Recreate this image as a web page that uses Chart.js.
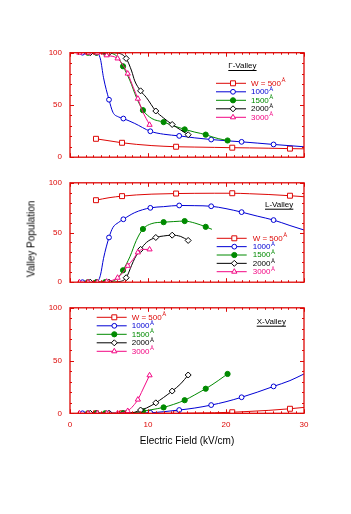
<!DOCTYPE html>
<html><head><meta charset="utf-8">
<script src="https://cdn.jsdelivr.net/npm/chart.js@4/dist/chart.umd.min.js"></script>
<style>
html,body{margin:0;padding:0;background:#fff;width:351px;height:514px;overflow:hidden;}
canvas{position:absolute;left:0;}
#ytitle{position:absolute;left:31px;top:239px;font:10px 'Liberation Sans',Arial,sans-serif;color:#000;white-space:nowrap;transform:translate(-50%,-50%) rotate(-90deg);}
</style></head><body>
<canvas id="c1" width="351" height="140" style="top:30px"></canvas>
<canvas id="c2" width="351" height="125" style="top:170px"></canvas>
<canvas id="c3" width="351" height="165" style="top:295px"></canvas>
<div id="ytitle">Valley Population</div>
<script>
// ---------------- data ----------------
const wellLabels = ['W = 500', '1000', '1500', '2000', '3000'];
const xTicks = [0, 10, 20, 30];
const yTicks = [0, 50, 100];

const x500   = [3.33, 5, 6.67, 8.5, 10.5, 13.6, 16, 18.5, 20.8, 23, 25.5, 28.2, 30];
const gam500 = [17.6, 15.7, 13.8, 12.3, 11.1, 10.0, 9.7, 9.4, 9.1, 8.9, 8.6, 8.2, 8.0];
const L500   = [82.5, 85, 86.6, 87.8, 88.6, 89.2, 89.4, 89.5, 89.5, 89, 88.2, 87, 86];
const X500   = [0, 0, 0, 0, 0, 0, 0.2, 0.5, 1.0, 1.8, 2.8, 4.3, 5.6];
const mk500  = [0, 2, 5, 8, 11];

const x1000   = [1.6, 3.4, 3.9, 4.3, 5.0, 5.5, 6.2, 6.84, 8.3, 10.3, 12, 14.0, 16, 18.1, 20, 22.0, 24, 26.1, 28.2, 30];
const gam1000 = [100, 100, 94, 76, 55, 43, 38.6, 37, 32.3, 24.8, 22, 20.4, 18.5, 16.9, 15.8, 14.7, 13.5, 12.2, 11, 10];
const L1000   = [0, 0, 7, 24, 45, 55, 60, 63.3, 70, 74.8, 76, 77.2, 77, 76.4, 74, 70.5, 66.5, 62.5, 57, 52.5];
const X1000   = [0, 0, 0, 0, 0, 0, 0, 0, 0.2, 0.5, 1.5, 3.1, 5, 7.8, 11, 15.2, 20, 25.5, 31, 37.3];
const mk1000  = [0, 1, 4, 7, 9, 11, 13, 15, 17];

const x1500   = [2.3, 3.4, 4.5, 5.5, 6.2, 6.8, 7.7, 8.5, 9.35, 10.5, 12.0, 13.3, 14.7, 16, 17.4, 18.2, 19, 20.2];
const gam1500 = [100, 100, 100, 99, 95, 87, 73, 57.4, 45, 37, 33.6, 30, 26.6, 24, 21.6, 19.5, 17.8, 16];
const L1500   = [0, 0, 0, 1, 5, 12, 26, 42, 53.5, 59, 60.4, 61, 61.5, 59.5, 55.7, 53.2];
const X1500   = [0, 0, 0, 0, 0, 0, 0.3, 0.8, 1.9, 3.5, 5.6, 8.5, 12.4, 17.5, 23.3, 27, 31, 37.3];
const mk1500  = [0, 1, 2, 5, 8, 10, 12, 14, 17];

const x2000   = [2.6, 5.0, 6.2, 7.2, 7.9, 8.3, 9.05, 9.8, 11.0, 12, 13.1, 14.2, 15.15];
const gam2000 = [100, 100, 99.5, 94.5, 82.5, 73, 63.5, 57, 44.2, 37.5, 31.3, 26, 21.5];
const L2000   = [0, 0, 0.5, 4.5, 17, 24, 33, 40, 45, 46.5, 47.3, 46, 42];
const X2000   = [0, 0, 0, 0, 0.5, 1, 3.1, 5, 9.9, 15, 21.1, 28, 36.3];
const mk2000  = [0, 1, 3, 6, 8, 10, 12];

const x3000   = [1.2, 2.3, 3.5, 4.7, 6.1, 6.8, 7.4, 8.1, 8.7, 9.3, 10.2];
const gam3000 = [100, 100, 100, 97.5, 94.5, 88, 80, 67, 56, 44, 31];
const L3000   = [0, 0, 0, 0.5, 4.5, 10, 16.5, 23, 30, 33, 33];
const X3000   = [0, 0, 0, 0, 0, 0.8, 2.2, 7, 13, 22, 36];
const mk3000  = [0, 1, 2, 3, 4, 6, 8, 10];

// ---------------- styles ----------------
const FONT = "'Liberation Sans', Arial, sans-serif";
const RED = '#dd0806';
const colors = ['#dd0806', '#0000d4', '#008a00', '#000000', '#f20884'];
const styles = ['rect', 'circle', 'circle', 'rectRot', 'triangle'];
const filled = [false, false, true, false, false];
const radii  = [3.5, 2.4, 2.6, 3, 3];

function makeSet(k, xs, ys, mk) {
  return {
    data: ys.map((v, i) => ({x: xs[i], y: v})),
    borderColor: colors[k], borderWidth: 1,
    backgroundColor: filled[k] ? colors[k] : '#fff',
    pointStyle: styles[k],
    pointBorderColor: colors[k],
    pointBackgroundColor: filled[k] ? colors[k] : '#fff',
    pointBorderWidth: 1,
    pointRadius: c => mk.includes(c.dataIndex) ? radii[k] : 0,
    pointHoverRadius: c => mk.includes(c.dataIndex) ? radii[k] : 0,
    cubicInterpolationMode: 'monotone',
    fill: false
  };
}

function drawMarker(ctx, k, x, y) {
  const r = radii[k];
  ctx.beginPath();
  if (styles[k] === 'rect') { const s = Math.SQRT1_2 * r; ctx.rect(x - s, y - s, 2 * s, 2 * s); }
  else if (styles[k] === 'circle') { ctx.arc(x, y, r, 0, Math.PI * 2); }
  else if (styles[k] === 'rectRot') { ctx.moveTo(x, y - r); ctx.lineTo(x + r, y); ctx.lineTo(x, y + r); ctx.lineTo(x - r, y); ctx.closePath(); }
  else { for (let j = 0; j < 3; j++) { const a = j * 2 * Math.PI / 3; const px = x + Math.sin(a) * r, py = y - Math.cos(a) * r; j ? ctx.lineTo(px, py) : ctx.moveTo(px, py); } ctx.closePath(); }
  ctx.fillStyle = filled[k] ? colors[k] : '#fff';
  ctx.fill();
  ctx.strokeStyle = colors[k]; ctx.lineWidth = 1; ctx.stroke();
}

const framePlugin = {
  id: 'frameTicks',
  afterDatasetsDraw(chart) {
    const {ctx, chartArea: a, scales: {x, y}} = chart;
    ctx.save();
    ctx.strokeStyle = RED;
    ctx.lineWidth = 1.3;
    ctx.strokeRect(a.left, a.top, a.right - a.left, a.bottom - a.top);
    ctx.lineWidth = 1;
    ctx.beginPath();
    for (let v = 0; v <= 30; v += 1) {
      const p = Math.round(x.getPixelForValue(v)) + 0.5;
      const len = v % 10 === 0 ? 4 : 2;
      ctx.moveTo(p, a.bottom); ctx.lineTo(p, a.bottom - len);
      ctx.moveTo(p, a.top); ctx.lineTo(p, a.top + len);
    }
    for (let v = 0; v <= 100; v += 10) {
      const p = Math.round(y.getPixelForValue(v)) + 0.5;
      const len = v % 50 === 0 ? 4 : 2;
      ctx.moveTo(a.left, p); ctx.lineTo(a.left + len, p);
      ctx.moveTo(a.right, p); ctx.lineTo(a.right - len, p);
    }
    ctx.stroke();
    ctx.restore();
  }
};

const legendPlugin = {
  id: 'valleyLegend',
  afterDatasetsDraw(chart, args, o) {
    const ctx = chart.ctx;
    ctx.save();
    ctx.textBaseline = 'middle'; ctx.textAlign = 'left';
    ctx.font = '8px ' + FONT;
    ctx.fillStyle = '#000';
    ctx.fillText(o.title, o.titleX, o.titleY);
    const w = ctx.measureText(o.title).width;
    ctx.fillRect(o.titleX, o.titleY + 4, w, 1);
    for (let k = 0; k < wellLabels.length; k++) {
      const y = o.y0 + k * o.dy;
      ctx.strokeStyle = colors[k]; ctx.lineWidth = 1;
      ctx.beginPath(); ctx.moveTo(o.x0, y); ctx.lineTo(o.x1, y); ctx.stroke();
      drawMarker(ctx, k, o.mx, y);
      ctx.fillStyle = colors[k];
      ctx.font = '8px ' + FONT;
      ctx.fillText(wellLabels[k], o.tx, y);
      const tw = ctx.measureText(wellLabels[k]).width;
      ctx.font = '6px ' + FONT;
      ctx.fillText('Å', o.tx + tw + 0.5, y - 2.5);
    }
    ctx.restore();
  }
};

function makeChart(id, sets, pad, showX, legend) {
  const datasets = [
    makeSet(4, x3000, sets[4], mk3000),
    makeSet(3, x2000, sets[3], mk2000),
    makeSet(2, x1500, sets[2], mk1500),
    makeSet(1, x1000, sets[1], mk1000),
    makeSet(0, x500,  sets[0], mk500)
  ];
  return new Chart(document.getElementById(id), {
    type: 'line',
    data: {datasets},
    plugins: [framePlugin, legendPlugin],
    options: {
      responsive: false, animation: false, events: [],
      layout: {padding: pad},
      plugins: {legend: {display: false}, tooltip: {enabled: false}, valleyLegend: legend},
      scales: {
        x: {
          type: 'linear', min: 0, max: 30, display: showX,
          grid: {display: false, drawTicks: false}, border: {display: false},
          afterBuildTicks: s => { s.ticks = xTicks.map(v => ({value: v})); },
          ticks: {color: RED, font: {size: 8, family: FONT}, padding: 7, maxRotation: 0},
          title: {display: showX, text: 'Electric Field (kV/cm)', color: '#000', font: {size: 10, family: FONT}, padding: {top: 0, bottom: 0}},
          afterFit: s => { if (showX) s.height = 34.4; }
        },
        y: {
          type: 'linear', min: 0, max: 100,
          grid: {display: false, drawTicks: false}, border: {display: false},
          afterBuildTicks: s => { s.ticks = yTicks.map(v => ({value: v})); },
          ticks: {color: RED, font: {size: 8, family: FONT}, padding: 8},
          afterFit: s => { s.width = 70; }
        }
      }
    }
  });
}

makeChart('c1', [gam500, gam1000, gam1500, gam2000, gam3000],
  {top: 22.7, right: 47, bottom: 11, left: 0}, false,
  {title: 'Γ-Valley', titleX: 228.3, titleY: 36, x0: 216, x1: 246, mx: 233, tx: 251, y0: 53.3, dy: 8.5});
makeChart('c2', [L500, L1000, L1500, L2000, L3000],
  {top: 10.7, right: 47, bottom: 9.3, left: 0}, false,
  {title: 'L-Valley', titleX: 265, titleY: 34.7, x0: 216.7, x1: 246.7, mx: 234.3, tx: 252.7, y0: 68.3, dy: 8.35});
makeChart('c3', [X500, X1000, X1500, X2000, X3000],
  {top: 11, right: 47, bottom: 12.3, left: 0}, true,
  {title: 'X-Valley', titleX: 256.7, titleY: 26.7, x0: 96.7, x1: 126.7, mx: 114.3, tx: 131.7, y0: 22.3, dy: 8.5});
</script>
</body></html>
